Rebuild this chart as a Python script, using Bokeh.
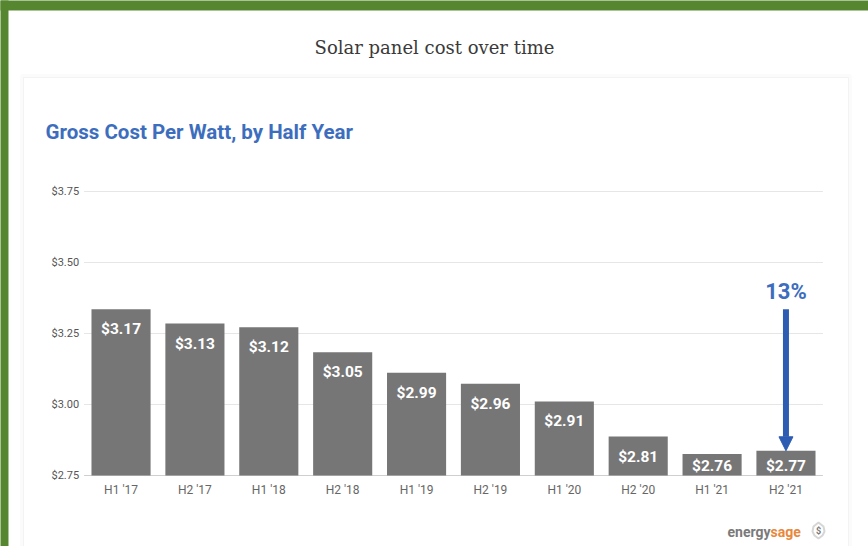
from bokeh.plotting import figure
from bokeh.models import (Range1d, FixedTicker, NumeralTickFormatter, ColumnDataSource,
                          Label, BoxAnnotation, Arrow, NormalHead, PolyAnnotation)
from bokeh.core.properties import value
from bokeh.embed import file_html
from bokeh.resources import INLINE

# ---------------- data ----------------
categories = ["H1 '17", "H2 '17", "H1 '18", "H2 '18", "H1 '19",
              "H2 '19", "H1 '20", "H2 '20", "H1 '21", "H2 '21"]
bar_heights = [3.335, 3.285, 3.272, 3.184, 3.112, 3.073, 3.011, 2.887, 2.826, 2.837]
cost_labels = ["$3.17", "$3.13", "$3.12", "$3.05", "$2.99",
               "$2.96", "$2.91", "$2.81", "$2.76", "$2.77"]
y_ticks = [2.75, 3.00, 3.25, 3.50, 3.75]

# ---------------- layout ----------------
W, H = 868, 546
PL, PR, PT, PB = 83.6, 822.4, 191, 475   # plot area in canvas pixels
n = len(categories)
y0, y1 = y_ticks[0], y_ticks[-1]
ppu = (PB - PT) / (y1 - y0)
cat_w = (PR - PL) / n


def X(px):
    return (px - PL) / cat_w


def Y(py):
    return y0 + (PB - py) / ppu


BLUE = "#3d6ebe"
FONT = "Roboto"

p = figure(width=W, height=H, x_range=Range1d(X(0), X(W)), y_range=Range1d(Y(H), Y(0)),
           output_backend="svg", toolbar_location=None, min_border=0)
p.outline_line_color = None
p.background_fill_color = "white"
p.border_fill_color = "white"
p.xgrid.visible = False
p.ygrid.visible = False

# green frame & card
GREEN = "#568730"
p.add_layout(BoxAnnotation(left=X(-20), right=X(900), top=Y(-20), bottom=Y(10),
                           fill_color=GREEN, fill_alpha=1, line_color=None, level="underlay"))
p.add_layout(BoxAnnotation(left=X(-20), right=X(8), top=Y(-20), bottom=Y(600),
                           fill_color=GREEN, fill_alpha=1, line_color=None, level="underlay"))
p.add_layout(BoxAnnotation(left=X(21.5), right=X(849.5), top=Y(75.5), bottom=Y(620),
                           fill_color=None, line_color="#f3f3f3", line_width=4, level="underlay"))
p.add_layout(BoxAnnotation(left=X(23), right=X(848), top=Y(77), bottom=Y(620),
                           fill_color=None, line_color="#e2e2e2", line_width=1, level="underlay"))

# gridlines and baseline
p.segment(x0=0, x1=n, y0=y_ticks[1:], y1=y_ticks[1:], line_color="#e6e6e6", line_width=1)
p.segment(x0=0, x1=n, y0=y0, y1=y0, line_color="#cfcfcf", line_width=1)

# bars
xs = [i + 0.5 for i in range(n)]
src = ColumnDataSource(dict(
    x=xs, cat=categories, top=bar_heights, label=cost_labels,
    ly=[max(h - 20 / ppu, y0 + 10 / ppu) for h in bar_heights]))
p.vbar(x="x", top="top", bottom=y0, width=0.8, source=src,
       fill_color="#767676", line_color=None)
p.text(x="x", y="ly", text="label", source=src, text_align="center",
       text_baseline="middle", text_color="white", text_font=value(FONT),
       text_font_size="15.5px", text_font_style="bold")

# arrow + percent
first = float(cost_labels[0].strip("$"))
last = float(cost_labels[-1].strip("$"))
pct = round((first - last) / first * 100)
xa = xs[-1]
p.add_layout(Arrow(x_start=xa, y_start=bar_heights[0], x_end=xa, y_end=bar_heights[-1],
                   line_color="#2d5db2", line_width=6,
                   end=NormalHead(size=14, fill_color="#2d5db2", line_color="#2d5db2", line_width=1)))
p.add_layout(Label(x=xa, y=bar_heights[0] + 18 / ppu, text=f"{pct}%", text_align="center",
                   text_baseline="alphabetic", text_color=BLUE, text_font=FONT,
                   text_font_size="22px", text_font_style="bold"))

# titles
p.add_layout(Label(x=X(434), y=Y(47), text="Solar panel cost over time", text_align="center",
                   text_baseline="middle", text_color="#3a3a3a", text_font="DejaVu Serif",
                   text_font_size="18px"))
p.add_layout(Label(x=X(45), y=Y(131), text="Gross Cost Per Watt, by Half Year", text_align="left",
                   text_baseline="middle", text_color=BLUE, text_font=FONT,
                   text_font_size="20.5px", text_font_style="bold"))

# logo
p.add_layout(Label(x=X(770), y=Y(531), text="energy", text_align="right", text_baseline="middle",
                   text_color="#7a7a7a", text_font=FONT, text_font_size="14px", text_font_style="bold"))
p.add_layout(Label(x=X(770), y=Y(531), text="sage", text_align="left", text_baseline="middle",
                   text_color="#e8883c", text_font=FONT, text_font_size="14px", text_font_style="bold"))
cx, cy = 818, 530
leaf_px = [(cx, cy - 8), (cx + 5, cy - 4), (cx + 6, cy + 1), (cx + 4, cy + 5), (cx, cy + 8),
           (cx - 4, cy + 5), (cx - 6, cy + 1), (cx - 5, cy - 4)]
p.add_layout(PolyAnnotation(xs=[X(a) for a, b in leaf_px], ys=[Y(b) for a, b in leaf_px],
                            fill_color=None, line_color="#777777", line_width=2))
p.add_layout(Label(x=X(cx), y=Y(cy), text="$", text_align="center", text_baseline="middle",
                   text_color="#777777", text_font=FONT, text_font_size="9px", text_font_style="bold"))

# axes (drawn at fixed locations inside the canvas)
for ax in (p.xaxis[0], p.yaxis[0]):
    ax.axis_line_color = None
    ax.major_tick_line_color = None
    ax.minor_tick_line_color = None
    ax.major_tick_out = 0
    ax.major_tick_in = 0
    ax.minor_tick_out = 0
    ax.major_label_text_font = FONT

p.yaxis.fixed_location = 0
p.yaxis.bounds = (y0, y1)
p.yaxis.ticker = FixedTicker(ticks=y_ticks)
p.yaxis.formatter = NumeralTickFormatter(format="$0.00")
p.yaxis.major_label_standoff = 5
p.yaxis.major_label_text_font_size = "11px"
p.yaxis.major_label_text_color = "#555555"

p.xaxis.fixed_location = y0
p.xaxis.bounds = (0, n)
p.xaxis.ticker = FixedTicker(ticks=xs)
p.xaxis.major_label_overrides = {x: c for x, c in zip(xs, categories)}
p.xaxis.major_label_standoff = 7
p.xaxis.major_label_text_font_size = "12px"
p.xaxis.major_label_text_color = "#666666"

open("out.html", "w").write(file_html(p, INLINE))
